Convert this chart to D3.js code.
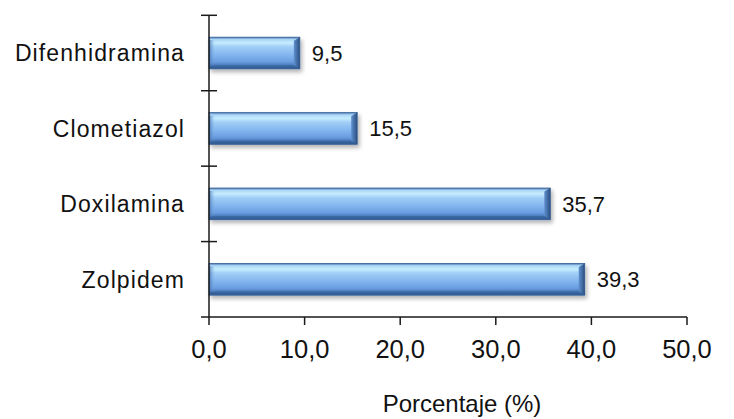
<!DOCTYPE html>
<html><head><meta charset="utf-8">
<script src="https://cdn.jsdelivr.net/npm/d3@7"></script>
<style>
html,body{margin:0;padding:0;background:#fff;}
svg{display:block;}
text{font-family:"Liberation Sans",Arial,sans-serif;fill:#111;}
</style></head>
<body>
<svg id="chart" width="734" height="419"></svg>
<script>
const categories = ["Difenhidramina","Clometiazol","Doxilamina","Zolpidem"];
const values = [9.5, 15.5, 35.7, 39.3];
const valueLabels = ["9,5","15,5","35,7","39,3"];
const xTicks = [0,10,20,30,40,50];
const xTickLabels = ["0,0","10,0","20,0","30,0","40,0","50,0"];
const xTitle = "Porcentaje (%)";

const svg = d3.select("#chart");
const pL = 209, pR = 687, pT = 15.3, pB = 317;

const x = d3.scaleLinear().domain([0,50]).range([pL,pR]);
const y = d3.scaleBand().domain(categories).range([pT,pB]).paddingInner(0.58).paddingOuter(0.29);

const defs = svg.append("defs");
const g = defs.append("linearGradient").attr("id","barGrad").attr("x1",0).attr("y1",0).attr("x2",0).attr("y2",1);
[[0,"#4a72a8"],[0.07,"#a9d6f8"],[0.18,"#c6ecfd"],[0.3,"#a2cff7"],[0.55,"#84b6ef"],[0.78,"#6a9de0"],[0.9,"#4675b5"],[1,"#2c4f80"]]
  .forEach(([o,c])=>g.append("stop").attr("offset",o).attr("stop-color",c));
const ge = defs.append("linearGradient").attr("id","endGrad").attr("x1",0).attr("y1",0).attr("x2",1).attr("y2",0);
[[0,"#5f90cf"],[1,"#2b4f80"]].forEach(([o,c])=>ge.append("stop").attr("offset",o).attr("stop-color",c));
const gl = defs.append("linearGradient").attr("id","leftGrad").attr("x1",0).attr("y1",0).attr("x2",1).attr("y2",0);
[[0,"#3e6aa5"],[1,"#7aaee9"]].forEach(([o,c])=>gl.append("stop").attr("offset",o).attr("stop-color",c).attr("stop-opacity",o?0:0.8));
const f = defs.append("filter").attr("id","shadow").attr("x","-5%").attr("y","-20%").attr("width","115%").attr("height","160%");
f.append("feGaussianBlur").attr("in","SourceAlpha").attr("stdDeviation",2.2);
f.append("feOffset").attr("dx",1.5).attr("dy",3).attr("result","ob");
f.append("feComponentTransfer").append("feFuncA").attr("type","linear").attr("slope",0.3);
const fm = f.append("feMerge"); fm.append("feMergeNode"); fm.append("feMergeNode").attr("in","SourceGraphic");

// bars
const bars = svg.append("g").selectAll("g").data(categories).join("g").attr("filter","url(#shadow)");
bars.append("rect")
  .attr("x", x(0)).attr("y", d=>y(d))
  .attr("width", (d,i)=>x(values[i])-x(0)).attr("height", y.bandwidth())
  .attr("fill","url(#barGrad)").attr("stroke","#3a649a").attr("stroke-width",0.8);
// left bevel
bars.append("rect")
  .attr("x", x(0)).attr("y", d=>y(d)+3).attr("width",6).attr("height", y.bandwidth()-6)
  .attr("fill","url(#leftGrad)");
// right bevel
bars.append("path")
  .attr("d",(d,i)=>{const xe=x(values[i]), y0=y(d), h=y.bandwidth(), b=6;
    return `M${xe-b},${y0+b*0.6} L${xe},${y0} L${xe},${y0+h} L${xe-b},${y0+h-b*0.6} Z`;})
  .attr("fill","url(#endGrad)");
// bottom bevel
bars.append("path")
  .attr("d",(d,i)=>{const xe=x(values[i]), y0=y(d), h=y.bandwidth(), b=6;
    return `M${x(0)},${y0+h} L${xe},${y0+h} L${xe-b},${y0+h-b*0.6} L${x(0)+2},${y0+h-b*0.6} Z`;})
  .attr("fill","#34609a").attr("opacity",0.6);

// value labels
svg.append("g").selectAll("text").data(categories).join("text")
  .attr("x",(d,i)=>x(values[i])+12).attr("y",d=>y(d)+y.bandwidth()/2)
  .attr("dy","0.36em").attr("font-size",22).text((d,i)=>valueLabels[i]);

// y axis
const ax = svg.append("g").attr("stroke","#1a1a1a").attr("stroke-width",1.5);
ax.append("line").attr("x1",pL).attr("x2",pL).attr("y1",pT).attr("y2",pB);
const yTickPos = categories.map(c=>y(c)-y.step()*y.paddingInner()/2).concat([pB]);
yTickPos[0] = pT;
ax.selectAll(".yt").data(yTickPos).join("line")
  .attr("x1",pL-8).attr("x2",(d,i)=>i===yTickPos.length-1?pL:pL+8)
  .attr("y1",d=>d).attr("y2",d=>d);
// x axis
ax.append("line").attr("x1",pL).attr("x2",pR).attr("y1",pB).attr("y2",pB);
ax.selectAll(".xt").data(xTicks).join("line")
  .attr("x1",d=>x(d)).attr("x2",d=>x(d)).attr("y1",pB).attr("y2",pB+8);

svg.append("g").selectAll("text").data(xTicks).join("text")
  .attr("x",d=>x(d)).attr("y",358).attr("text-anchor","middle")
  .attr("font-size",25.5).text((d,i)=>xTickLabels[i]);

svg.append("g").selectAll("text").data(categories).join("text")
  .attr("x",185).attr("y",d=>y(d)+y.bandwidth()/2).attr("dy","0.36em")
  .attr("text-anchor","end").attr("font-size",23).attr("letter-spacing",1.1)
  .text(d=>d);

svg.append("text").attr("x",462).attr("y",412).attr("text-anchor","middle")
  .attr("font-size",24).text(xTitle);
</script>
</body></html>
